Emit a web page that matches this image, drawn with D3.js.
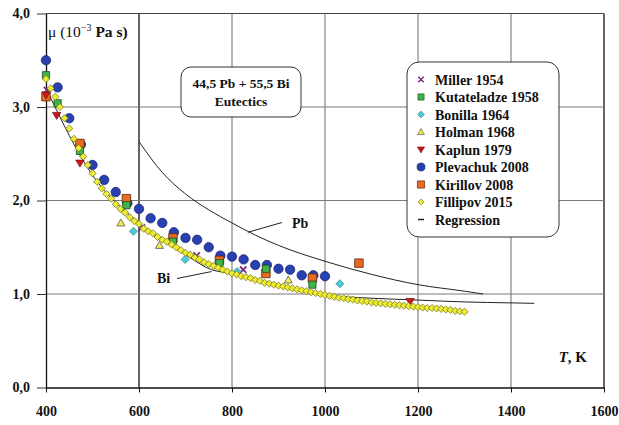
<!DOCTYPE html>
<html>
<head>
<meta charset="utf-8">
<script src="https://cdn.jsdelivr.net/npm/d3@7"></script>
<style>
  html, body { margin: 0; padding: 0; background: #fff; }
  svg text { font-family: "Liberation Serif", "DejaVu Serif", serif; fill: #111; }
</style>
</head>
<body>
<div id="chart"></div>
<script>
// ---- data ----
const xTicks = [400, 600, 800, 1000, 1200, 1400, 1600];
const yTicks = [0, 1, 2, 3, 4];

const millerT = [402, 606, 724, 824];
const millerMu = [3.18, 1.71, 1.41, 1.26];

const kutateladzeT = [400, 425, 473, 573, 673, 773, 873, 973];
const kutateladzeMu = [3.34, 3.04, 2.53, 1.95, 1.56, 1.33, 1.27, 1.10];

const bonillaT = [588, 699, 811, 1032];
const bonillaMu = [1.67, 1.37, 1.24, 1.11];

const holmanT = [561, 644, 921];
const holmanMu = [1.76, 1.52, 1.15];

const kaplunT = [400, 423, 473, 1183];
const kaplunMu = [3.13, 2.91, 2.40, 0.92];

const plevachukT = [400, 425, 450, 475, 500, 525, 550, 575, 600, 625, 650, 675, 700,
  725, 750, 775, 800, 825, 850, 875, 900, 925, 950, 975, 1000];
const plevachukMu = [3.50, 3.21, 2.88, 2.60, 2.38, 2.22, 2.09, 1.97, 1.91, 1.81, 1.76, 1.66, 1.60,
  1.58, 1.50, 1.41, 1.40, 1.37, 1.31, 1.31, 1.27, 1.26, 1.20, 1.20, 1.19];

const kirillovT = [400, 473, 573, 673, 773, 873, 973, 1073];
const kirillovMu = [3.11, 2.61, 2.02, 1.60, 1.36, 1.22, 1.17, 1.33];

const fillipovT = [400, 410, 420, 430, 440, 450, 460, 470, 480, 490, 500, 510, 520, 530, 540,
  550, 560, 570, 580, 590, 600, 610, 620, 630, 640, 650, 660, 670, 680, 690, 700, 710, 720,
  730, 740, 750, 760, 770, 780, 790, 800, 810, 820, 830, 840, 850, 860, 870, 880, 890, 900,
  910, 920, 930, 940, 950, 960, 970, 980, 990, 1000, 1010, 1020, 1030, 1040, 1050, 1060, 1070,
  1080, 1090, 1100, 1110, 1120, 1130, 1140, 1150, 1160, 1170, 1180, 1190, 1200, 1210, 1220,
  1230, 1240, 1250, 1260, 1270, 1280, 1290, 1300];
const fillipovMu = [3.30, 3.20, 3.11, 3.00, 2.88, 2.77, 2.66, 2.56, 2.47, 2.38, 2.29, 2.20, 2.13, 2.07, 2.02,
  1.96, 1.91, 1.87, 1.82, 1.78, 1.75, 1.70, 1.67, 1.65, 1.61, 1.58, 1.56, 1.53, 1.50, 1.47, 1.44, 1.42, 1.39,
  1.37, 1.34, 1.32, 1.30, 1.28, 1.26, 1.24, 1.22, 1.21, 1.19, 1.18, 1.17, 1.15, 1.14, 1.12, 1.11, 1.10, 1.09,
  1.08, 1.07, 1.06, 1.05, 1.04, 1.03, 1.02, 1.01, 1.00, 0.99, 0.98, 0.97, 0.96, 0.955, 0.945, 0.94, 0.93,
  0.925, 0.92, 0.91, 0.905, 0.90, 0.895, 0.89, 0.885, 0.88, 0.875, 0.87, 0.865, 0.86, 0.855, 0.85,
  0.85, 0.845, 0.84, 0.835, 0.83, 0.82, 0.815, 0.81];

// reference curves
const pbT = [600, 650, 700, 750, 800, 850, 900, 1000, 1100, 1200, 1300, 1340];
const pbMu = [2.63, 2.30, 2.07, 1.90, 1.76, 1.63, 1.52, 1.35, 1.21, 1.10, 1.03, 1.00];
const biT = [400, 500, 600, 700, 756, 800, 900, 1000, 1100, 1200, 1300, 1400, 1450];
const biMu = [3.20, 2.27, 1.76, 1.42, 1.26, 1.22, 1.10, 0.99, 0.955, 0.935, 0.915, 0.905, 0.90];

const legendNames = ['Miller 1954', 'Kutateladze 1958', 'Bonilla 1964', 'Holman 1968', 'Kaplun 1979',
  'Plevachuk 2008', 'Kirillov 2008', 'Fillipov 2015', 'Regression'];

// ---- chart ----
const width = 619;
const height = 425;

const x = d3.scaleLinear().domain([400, 1600]).range([46, 604]);
const y = d3.scaleLinear().domain([0, 4]).range([387.5, 13.5]);
const fmt = d3.formatLocale({decimal: ',', thousands: '.', grouping: [3], currency: ['', '']}).format('.1f');

const svg = d3.select('#chart')
  .append('svg')
  .attr('width', width)
  .attr('height', height);

// grid
svg.append('g').selectAll('line')
  .data(xTicks.filter(t => t > 400))
  .enter().append('line')
  .attr('x1', d => x(d)).attr('x2', d => x(d))
  .attr('y1', y(4)).attr('y2', y(0))
  .attr('stroke', d => (d === 600 || d === 1600) ? '#111' : '#7a7a7a')
  .attr('stroke-width', d => (d === 600 || d === 1600) ? 1.3 : 1.1);

svg.append('g').selectAll('line')
  .data(yTicks.filter(t => t > 0))
  .enter().append('line')
  .attr('x1', x(400)).attr('x2', x(1600))
  .attr('y1', d => y(d)).attr('y2', d => y(d))
  .attr('stroke', d => d === 4 ? '#444' : '#7a7a7a')
  .attr('stroke-width', 1.1);

// axes
const xAxis = svg.append('g')
  .attr('transform', 'translate(0,' + y(0) + ')')
  .call(d3.axisBottom(x).tickValues(xTicks).tickSize(5).tickSizeOuter(0).tickPadding(14).tickFormat(d3.format('d')));
xAxis.select('.domain').attr('stroke', '#111').attr('stroke-width', 1.3);
xAxis.selectAll('.tick line').attr('stroke', '#111');
xAxis.selectAll('text').style('font-size', '14px').style('font-weight', 'bold').attr('fill', '#111');

const yAxis = svg.append('g')
  .attr('transform', 'translate(' + x(400) + ',0)')
  .call(d3.axisLeft(y).tickValues(yTicks).tickSize(9).tickSizeOuter(0).tickPadding(7).tickFormat(fmt));
yAxis.select('.domain').attr('stroke', '#111').attr('stroke-width', 1.3);
yAxis.selectAll('.tick line').attr('stroke', '#333');
yAxis.selectAll('text').style('font-size', '14px').style('font-weight', 'bold').attr('fill', '#111');

// curves
const line = d3.line()
  .x(d => x(d[0]))
  .y(d => y(d[1]))
  .curve(d3.curveMonotoneX);

svg.append('path')
  .attr('d', line(d3.zip(pbT, pbMu)))
  .attr('fill', 'none').attr('stroke', '#222').attr('stroke-width', 1);
svg.append('path')
  .attr('d', line(d3.zip(biT, biMu)))
  .attr('fill', 'none').attr('stroke', '#222').attr('stroke-width', 1);

// curve labels with pointers
svg.append('line')
  .attr('x1', x(834)).attr('y1', y(1.66)).attr('x2', 282).attr('y2', 222.5)
  .attr('stroke', '#222').attr('stroke-width', 1);
svg.append('text').attr('x', 292).attr('y', 228).style('font-size', '14px').style('font-weight', 'bold').text('Pb');
svg.append('line')
  .attr('x1', 177).attr('y1', 278.5).attr('x2', x(756)).attr('y2', y(1.24))
  .attr('stroke', '#222').attr('stroke-width', 1);
svg.append('text').attr('x', 157).attr('y', 283).style('font-size', '14px').style('font-weight', 'bold').text('Bi');

// markers
const sym = (type, size) => d3.symbol().type(type).size(size)();
const tri = 'M0,-4L4,3L-4,3Z';
const triDown = 'M0,4L4.2,-3L-4.2,-3Z';
const cross = 'M-3.2,-3.2L3.2,3.2M3.2,-3.2L-3.2,3.2';
const diamond = r => 'M0,' + (-r) + 'L' + r + ',0L0,' + r + 'L' + (-r) + ',0Z';

const series = [
  {name: 'Plevachuk 2008', T: plevachukT, mu: plevachukMu, path: sym(d3.symbolCircle, 70), fill: '#2840b0', stroke: '#14206a', sw: 0.7},
  {name: 'Kirillov 2008', T: kirillovT, mu: kirillovMu, path: sym(d3.symbolSquare, 72), fill: '#ea6a22', stroke: '#5a2a10', sw: 0.8},
  {name: 'Kutateladze 1958', T: kutateladzeT, mu: kutateladzeMu, path: sym(d3.symbolSquare, 52), fill: '#3fb548', stroke: '#1d4d20', sw: 0.8},
  {name: 'Miller 1954', T: millerT, mu: millerMu, path: cross, fill: 'none', stroke: '#7d2e7d', sw: 1.8},
  {name: 'Bonilla 1964', T: bonillaT, mu: bonillaMu, path: diamond(4), fill: '#4ccbd8', stroke: '#2a7f88', sw: 0.7},
  {name: 'Holman 1968', T: holmanT, mu: holmanMu, path: tri, fill: '#f3ec50', stroke: '#555', sw: 0.8},
  {name: 'Kaplun 1979', T: kaplunT, mu: kaplunMu, path: triDown, fill: '#d0161a', stroke: '#6a1010', sw: 0.7},
  {name: 'Fillipov 2015', T: fillipovT, mu: fillipovMu, path: diamond(3.6), fill: '#ecec30', stroke: '#6e6a20', sw: 0.7}
];

series.forEach(s => {
  svg.append('g').selectAll('path')
    .data(d3.zip(s.T, s.mu))
    .enter().append('path')
    .attr('d', s.path)
    .attr('transform', d => 'translate(' + x(d[0]) + ',' + y(d[1]) + ')')
    .attr('fill', s.fill)
    .attr('stroke', s.stroke)
    .attr('stroke-width', s.sw);
});

// composition box
svg.append('rect')
  .attr('x', 181).attr('y', 67).attr('width', 120).attr('height', 50).attr('rx', 10)
  .attr('fill', '#fff').attr('stroke', '#333').attr('stroke-width', 1);
svg.append('text').attr('x', 241).attr('y', 88).attr('text-anchor', 'middle')
  .style('font-size', '13.5px').style('font-weight', 'bold').text('44,5 Pb + 55,5 Bi');
svg.append('text').attr('x', 241).attr('y', 106).attr('text-anchor', 'middle')
  .style('font-size', '13.5px').style('font-weight', 'bold').text('Eutectics');

// legend
const legend = svg.append('g');
legend.append('rect')
  .attr('x', 407).attr('y', 62).attr('width', 152).attr('height', 175).attr('rx', 12)
  .attr('fill', '#fff').attr('stroke', '#333').attr('stroke-width', 1);
const byName = {};
series.forEach(s => { byName[s.name] = s; });
legendNames.forEach((name, i) => {
  const ly = 79.5 + i * 17.5;
  const s = byName[name];
  if (s) {
    legend.append('path')
      .attr('d', s.path)
      .attr('transform', 'translate(421,' + ly + ') scale(0.85)')
      .attr('fill', s.fill).attr('stroke', s.stroke).attr('stroke-width', s.sw);
  } else {
    legend.append('line')
      .attr('x1', 418).attr('x2', 424).attr('y1', ly).attr('y2', ly)
      .attr('stroke', '#222').attr('stroke-width', 1.5);
  }
  legend.append('text')
    .attr('x', 435).attr('y', ly + 5)
    .style('font-size', '14px').style('font-weight', 'bold')
    .text(name);
});

// axis titles
const yTitle = svg.append('text').attr('x', 48).attr('y', 37).style('font-size', '15.5px');
yTitle.append('tspan').text('\u03bc (10');
yTitle.append('tspan').style('font-size', '10px').attr('dy', -6).text('\u22123');
yTitle.append('tspan').attr('dy', 6).style('font-weight', 'bold').text(' Pa s)');

const xTitle = svg.append('text').attr('x', 587).attr('y', 362).attr('text-anchor', 'end')
  .style('font-size', '15px').style('font-weight', 'bold');
xTitle.append('tspan').style('font-style', 'italic').text('T');
xTitle.append('tspan').text(', K');
</script>
</body>
</html>
